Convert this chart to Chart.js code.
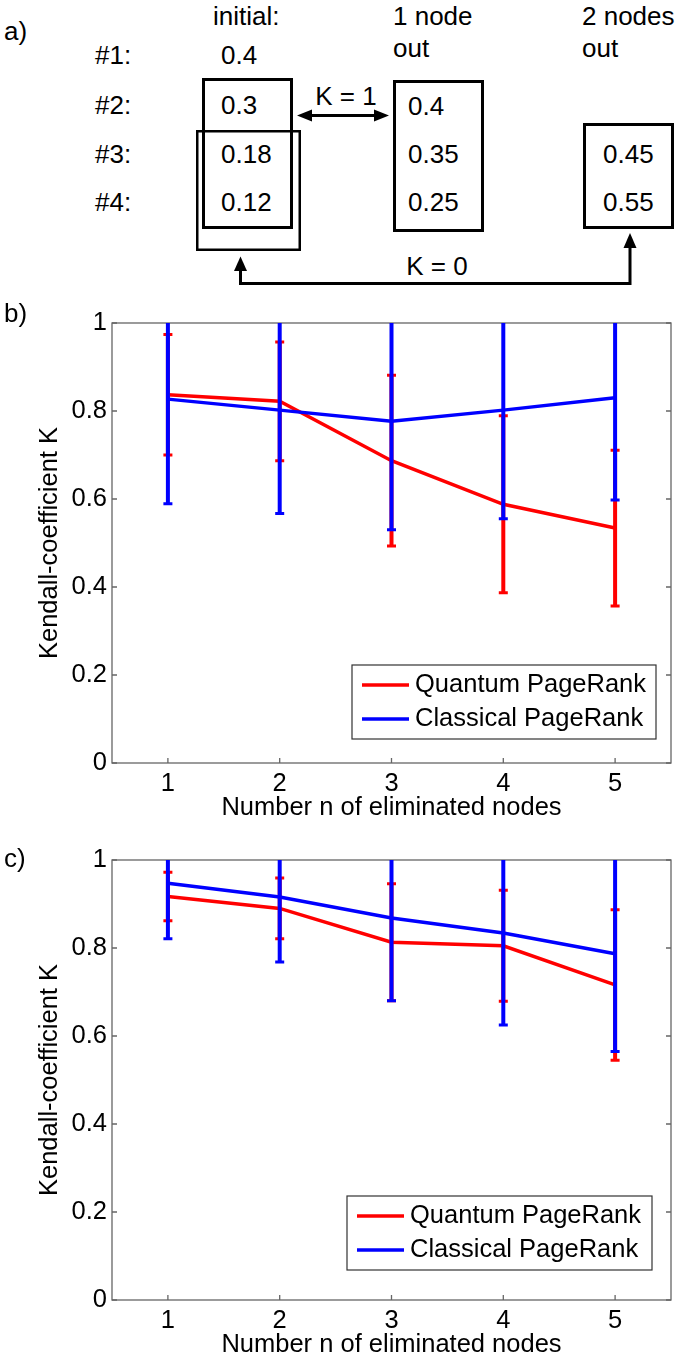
<!DOCTYPE html>
<html>
<head>
<meta charset="utf-8">
<script src="https://cdn.jsdelivr.net/npm/chart.js@4.4.1/dist/chart.umd.min.js"></script>
<style>
  html, body { margin: 0; padding: 0; background: #fff; }
  #page { position: relative; width: 685px; height: 1360px; overflow: hidden;
          font-family: 'Liberation Sans', Arial, sans-serif; color: #000; }
  .t { position: absolute; font-size: 26px; line-height: 1; white-space: nowrap; transform: translate(0, -50%); }
  #diagram { position: absolute; left: 0; top: 0; }
  #chartB { position: absolute; left: 0; top: 295px; }
  #chartC { position: absolute; left: 0; top: 835px; }
</style>
</head>
<body>
<div id="page">
  <svg id="diagram" width="685" height="300">
    <g fill="none" stroke="#000" stroke-width="3">
      <rect x="203.5" y="79.5" width="88" height="148"/>
      <rect x="197.25" y="131.25" width="102.5" height="118.5" stroke-width="2.5"/>
      <rect x="394.5" y="81.5" width="88" height="149"/>
      <rect x="584.5" y="124.5" width="88" height="103"/>
      <line x1="308" y1="115.5" x2="378" y2="115.5"/>
      <polyline points="240.5,268 240.5,283.5 630,283.5 630,246"/>
    </g>
    <g fill="#000">
      <polygon points="297,115.5 312,109.5 312,121.5"/>
      <polygon points="389,115.5 374,109.5 374,121.5"/>
      <polygon points="240.5,256.5 234,271 247,271"/>
      <polygon points="630,233 623.5,248 636.5,248"/>
    </g>
  </svg>
  <canvas id="chartB" width="685" height="535"></canvas>
  <canvas id="chartC" width="685" height="525"></canvas>
</div>
<script>
// x categories and axis ticks
const nodeCounts = [1, 2, 3, 4, 5];
const yTickValues = [0, 0.2, 0.4, 0.6, 0.8, 1];

// panel b) means and error half-widths
const quantumB = [0.837, 0.822, 0.687, 0.588, 0.534];
const quantumErrB = [0.137, 0.135, 0.194, 0.201, 0.177];
const classicalB = [0.827, 0.802, 0.777, 0.802, 0.830];
const classicalErrB = [0.238, 0.235, 0.247, 0.247, 0.232];

// panel c)
const quantumC = [0.917, 0.890, 0.813, 0.805, 0.716];
const quantumErrC = [0.055, 0.069, 0.133, 0.126, 0.171];
const classicalC = [0.947, 0.916, 0.868, 0.834, 0.787];
const classicalErrC = [0.126, 0.148, 0.188, 0.209, 0.222];

// panel a) ranking example
const rankLabels = ['#1:', '#2:', '#3:', '#4:'];
const initialScores = ['0.4', '0.3', '0.18', '0.12'];
const oneOutScores = ['0.4', '0.35', '0.25'];
const twoOutScores = ['0.45', '0.55'];

const page = document.getElementById('page');

function addText(text, left, y, center) {
  const d = document.createElement('div');
  d.className = 't';
  d.textContent = text;
  d.style.left = left + 'px';
  d.style.top = y + 'px';
  if (center) d.style.transform = 'translate(-50%, -50%)';
  page.appendChild(d);
}

const rowY = [55, 105, 154, 202];
addText('a)', 4, 31);
addText('b)', 4, 313);
addText('c)', 4, 858);
addText('initial:', 213, 16);
addText('1 node', 393, 16);
addText('out', 393, 48);
addText('2 nodes', 582, 16);
addText('out', 582, 48);
addText('K = 1', 346, 96, true);
addText('K = 0', 437, 266, true);
rankLabels.forEach((t, i) => addText(t, 95, rowY[i]));
initialScores.forEach((t, i) => addText(t, 221, rowY[i]));
oneOutScores.forEach((t, i) => addText(t, 408, rowY[i + 1] + (i === 0 ? 1 : 0)));
twoOutScores.forEach((t, i) => addText(t, 603, rowY[i + 2]));

Chart.defaults.font.family = "'Liberation Sans', Arial, sans-serif";
Chart.defaults.font.size = 25.5;
Chart.defaults.color = '#000';

// MATLAB-like box with inward ticks
const frame = {
  id: 'frame',
  beforeDatasetsDraw(chart) {
    const {ctx, chartArea: a, scales: {x, y}} = chart;
    ctx.save();
    ctx.strokeStyle = '#666';
    ctx.lineWidth = 1.3;
    ctx.strokeRect(a.left, a.top, a.right - a.left, a.bottom - a.top);
    ctx.beginPath();
    x.ticks.forEach(t => {
      const px = x.getPixelForValue(t.value);
      ctx.moveTo(px, a.bottom); ctx.lineTo(px, a.bottom - 5);
      ctx.moveTo(px, a.top); ctx.lineTo(px, a.top + 5);
    });
    y.ticks.forEach(t => {
      const py = y.getPixelForValue(t.value);
      ctx.moveTo(a.left, py); ctx.lineTo(a.left + 5, py);
      ctx.moveTo(a.right, py); ctx.lineTo(a.right - 5, py);
    });
    ctx.stroke();
    ctx.restore();
  }
};

const errorBars = {
  id: 'errorBars',
  afterDatasetDraw(chart, args) {
    const ds = chart.data.datasets[args.index];
    if (!ds.errors) return;
    const {ctx, chartArea: a, scales: {x, y}} = chart;
    ctx.save();
    ctx.beginPath();
    ctx.rect(a.left, a.top, a.right - a.left, a.bottom - a.top);
    ctx.clip();
    ctx.strokeStyle = ds.borderColor;
    ds.data.forEach((p, i) => {
      const px = x.getPixelForValue(p.x);
      const hi = y.getPixelForValue(p.y + ds.errors[i]);
      const lo = y.getPixelForValue(p.y - ds.errors[i]);
      ctx.lineWidth = 4;
      ctx.beginPath();
      ctx.moveTo(px, hi); ctx.lineTo(px, lo);
      ctx.stroke();
      ctx.lineWidth = 3;
      ctx.beginPath();
      ctx.moveTo(px - 4.5, hi); ctx.lineTo(px + 4.5, hi);
      ctx.moveTo(px - 4.5, lo); ctx.lineTo(px + 4.5, lo);
      ctx.stroke();
    });
    ctx.restore();
  }
};

const boxLegend = {
  id: 'boxLegend',
  afterDraw(chart, args, opts) {
    const {ctx, chartArea: a} = chart;
    const bx = a.right - opts.right - opts.w;
    const by = a.bottom - opts.bottom - opts.h;
    ctx.save();
    ctx.fillStyle = '#fff';
    ctx.fillRect(bx, by, opts.w, opts.h);
    ctx.strokeStyle = '#333';
    ctx.lineWidth = 1.2;
    ctx.strokeRect(bx, by, opts.w, opts.h);
    ctx.font = "25.5px 'Liberation Sans', Arial, sans-serif";
    ctx.textBaseline = 'middle';
    chart.data.datasets.forEach((ds, i) => {
      const cy = by + opts.h / 2 - 17 + i * 34;
      ctx.strokeStyle = ds.borderColor;
      ctx.lineWidth = 3.5;
      ctx.beginPath();
      ctx.moveTo(bx + 10, cy); ctx.lineTo(bx + 57, cy);
      ctx.stroke();
      ctx.fillStyle = '#000';
      ctx.fillText(ds.label, bx + 63, cy);
    });
    ctx.restore();
  }
};

function makeChart(id, quantum, quantumErr, classical, classicalErr, pad, legendPos) {
  const toPoints = arr => arr.map((v, i) => ({x: nodeCounts[i], y: v}));
  return new Chart(document.getElementById(id), {
    type: 'line',
    data: {
      datasets: [
        { label: 'Quantum PageRank', data: toPoints(quantum), errors: quantumErr,
          borderColor: '#ff0000', backgroundColor: '#ff0000', order: 2 },
        { label: 'Classical PageRank', data: toPoints(classical), errors: classicalErr,
          borderColor: '#0000ff', backgroundColor: '#0000ff', order: 1 }
      ]
    },
    options: {
      responsive: false,
      animation: false,
      layout: { padding: { top: pad.top, right: 14, left: 0, bottom: 0 } },
      elements: { point: { radius: 0 }, line: { borderWidth: 3.5, tension: 0 } },
      plugins: { legend: { display: false }, tooltip: { enabled: false }, boxLegend: legendPos },
      scales: {
        x: {
          type: 'linear', min: 0.5, max: 5.5,
          afterBuildTicks: s => { s.ticks = nodeCounts.map(v => ({value: v})); },
          afterFit: s => { s.height = pad.xHeight; },
          grid: { display: false, drawTicks: false },
          border: { display: false },
          ticks: { padding: 6, callback: v => String(v) },
          title: { display: true, text: 'Number n of eliminated nodes',
                   padding: { top: 0, bottom: pad.titleBottom } }
        },
        y: {
          min: 0, max: 1,
          afterBuildTicks: s => { s.ticks = yTickValues.map(v => ({value: v})); },
          afterFit: s => { s.width = 112; },
          grid: { display: false, drawTicks: false },
          border: { display: false },
          ticks: { padding: 5, callback: v => String(v) },
          title: { display: true, text: 'Kendall-coefficient K', padding: { top: 35, bottom: 0 } }
        }
      }
    },
    plugins: [frame, errorBars, boxLegend]
  });
}

makeChart('chartB', quantumB, quantumErrB, classicalB, classicalErrB,
  { top: 28, xHeight: 67, titleBottom: 7 }, { right: 15, bottom: 24, w: 304, h: 74 });
makeChart('chartC', quantumC, quantumErrC, classicalC, classicalErrC,
  { top: 25, xHeight: 60, titleBottom: 0 }, { right: 19, bottom: 30, w: 305, h: 74 });
</script>
</body>
</html>
